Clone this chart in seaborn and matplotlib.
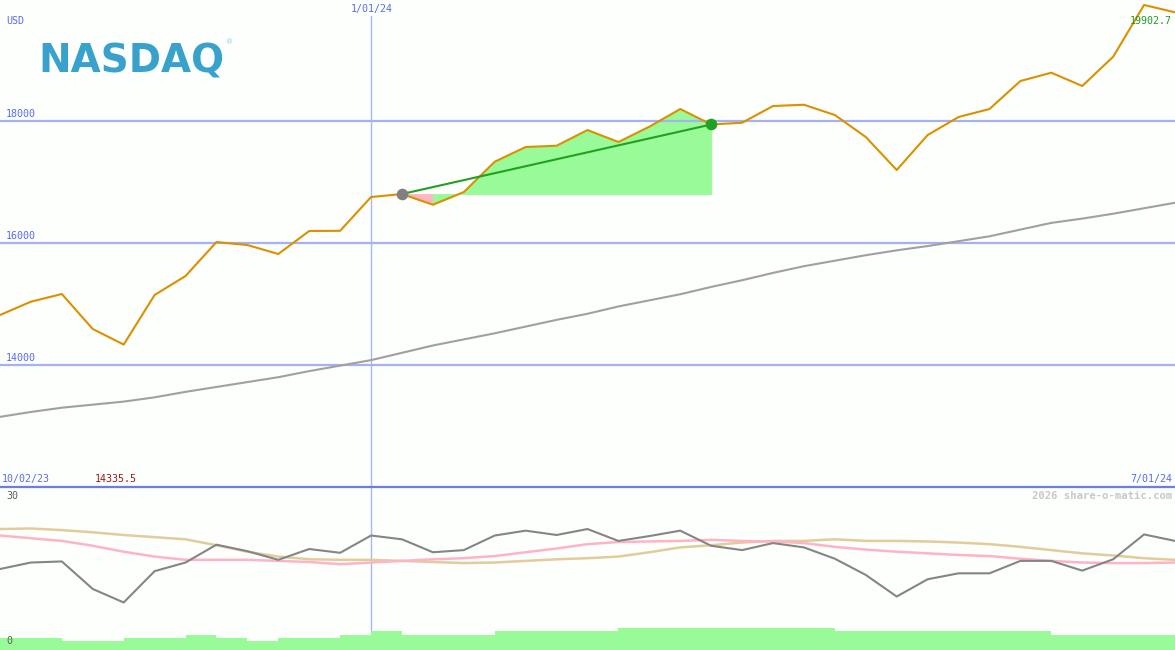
import matplotlib
matplotlib.use("Agg")
import matplotlib.pyplot as plt
import matplotlib.transforms as mtransforms
from matplotlib.lines import Line2D
import seaborn as sns

# ---------------- data ----------------
week_index = list(range(39))
close = [14820, 15038, 15164, 14590, 14335.5, 15148, 15459, 16016, 15967, 15820,
         16197, 16200, 16754, 16803, 16628, 16836, 17333, 17574, 17595, 17852,
         17656, 17907, 18197, 17943, 17972, 18246, 18267, 18098, 17738, 17197,
         17770, 18066, 18197, 18656, 18792, 18574, 19054, 19902.7, 19782]
moving_avg = [13150, 13230, 13300, 13350, 13400, 13470, 13560, 13640, 13720, 13800,
              13900, 13990, 14080, 14200, 14320, 14420, 14520, 14630, 14740, 14840,
              14960, 15060, 15160, 15280, 15390, 15510, 15620, 15710, 15800, 15880,
              15950, 16030, 16110, 16220, 16330, 16400, 16480, 16570, 16660]
osc_main = [15.0, 16.2, 16.4, 11.3, 8.8, 14.6, 16.2, 19.5, 18.3, 16.7,
            18.7, 18.0, 21.2, 20.5, 18.1, 18.5, 21.2, 22.1, 21.3, 22.4,
            20.2, 21.1, 22.1, 19.3, 18.5, 19.8, 19.0, 16.9, 13.9, 9.9,
            13.1, 14.2, 14.2, 16.5, 16.5, 14.7, 16.8, 21.4, 20.2]
osc_pink = [21.2, 20.7, 20.2, 19.3, 18.2, 17.3, 16.7, 16.7, 16.7, 16.5,
            16.3, 15.9, 16.2, 16.5, 16.8, 17.0, 17.4, 18.1, 18.8, 19.6,
            20.0, 20.1, 20.2, 20.4, 20.2, 20.1, 19.8, 19.1, 18.6, 18.2,
            17.9, 17.6, 17.4, 16.9, 16.5, 16.2, 16.1, 16.1, 16.2]
osc_tan = [22.4, 22.5, 22.2, 21.8, 21.3, 20.9, 20.5, 19.4, 18.2, 17.3,
           16.8, 16.7, 16.7, 16.5, 16.3, 16.1, 16.2, 16.5, 16.8, 17.0,
           17.3, 18.1, 19.0, 19.4, 19.9, 20.2, 20.2, 20.5, 20.2, 20.2,
           20.1, 19.9, 19.6, 19.1, 18.5, 17.9, 17.5, 17.0, 16.7]
volume = [2.3, 2.3, 1.7, 1.7, 2.3, 2.3, 2.8, 2.3, 1.7, 2.3,
          2.3, 2.8, 3.5, 2.8, 2.8, 2.8, 3.5, 3.5, 3.5, 3.5,
          4.1, 4.1, 4.1, 4.1, 4.1, 4.1, 4.1, 3.5, 3.5, 3.5,
          3.5, 3.5, 3.5, 3.5, 2.8, 2.8, 2.8, 2.8]
y_ticks = [14000, 16000, 18000]
y_tick_labels = ["14000", "16000", "18000"]
date_labels = ["10/02/23", "1/01/24", "7/01/24"]
marker_week = 12
trade_start, trade_end = 13, 23
low_label = "14335.5"
high_label = "19902.7"
osc_labels = ["30", "0"]

# ---------------- style ----------------
W, H = 1175, 650
bg = "#fcfffc"
grid_blue = "#a4b2f2"
text_blue = "#5a6af0"
mono = ["DejaVu Sans Mono"]

sns.set_style("white")
plt.rcParams["font.family"] = ["DejaVu Sans Mono", "DejaVu Sans"]

fig = plt.figure(figsize=(W / 100, H / 100), dpi=100, facecolor=bg)
ax = fig.add_axes([0, 163 / H, 1, 487 / H])
ax2 = fig.add_axes([0, 0, 1, 162 / H])


def fx(x):
    return x / W


def fy(y):
    return 1 - y / H


# ---------------- top panel ----------------
for v in y_ticks:
    ax.axhline(v, color=grid_blue, lw=1.6, zorder=3)
ax.axvline(marker_week, ymax=1 - 16 / 487, color="#a8b6fa", lw=1.0, zorder=2)

sns.lineplot(x=week_index, y=moving_avg, ax=ax, color="#a0a0a0", lw=1.5, zorder=4)

base = close[trade_start]
for i in range(trade_start, trade_end):
    col = "#98fb98" if close[i + 1] >= base else "#ffb6c1"
    ax.fill_between([week_index[i], week_index[i + 1]], [close[i], close[i + 1]], base,
                    facecolor=col, edgecolor=col, lw=0.6, antialiased=False, zorder=1)

sns.lineplot(x=week_index, y=close, ax=ax, color="#dc9000", lw=1.5, zorder=5)
ax.plot([week_index[trade_start], week_index[trade_end]], [close[trade_start], close[trade_end]],
        color="#22a022", lw=1.5, zorder=6)
ax.scatter([week_index[trade_start]], [close[trade_start]], s=70, color="#808080", zorder=7, lw=0)
ax.scatter([week_index[trade_end]], [close[trade_end]], s=70, color="#22a022", zorder=7, lw=0)

ax.set_xlim(0, 38)
ax.set_ylim(12000, 19984)
ax.set_axis_off()

blend = mtransforms.blended_transform_factory(ax.transAxes, ax.transData)
for v, lab in zip(y_ticks, y_tick_labels):
    ax.text(6 / W, v + 25, lab, transform=blend, ha="left", va="bottom",
            fontsize=7.2, color=text_blue, family=mono)

# ---------------- bottom panel ----------------
ax2.axvline(marker_week, color="#a8b6fa", lw=1.0, zorder=1)
ax2.bar(week_index[:-1], volume, width=1.0, align="edge", color="#98fb98", lw=0,
        antialiased=False, zorder=2)
sns.lineplot(x=week_index, y=osc_tan, ax=ax2, color="#e2cc9c", lw=1.8, zorder=3)
sns.lineplot(x=week_index, y=osc_pink, ax=ax2, color="#ffb4c6", lw=1.8, zorder=3)
sns.lineplot(x=week_index, y=osc_main, ax=ax2, color="#858585", lw=1.5, zorder=4)
ax2.set_xlim(0, 38)
ax2.set_ylim(0, 30)
ax2.set_axis_off()

fig.add_artist(Line2D([0, 1], [163 / H, 163 / H], color="#6c7cea", lw=1.6))

# ---------------- texts ----------------
fig.text(fx(6), fy(21), "USD", ha="left", va="center", fontsize=7.2, color=text_blue, family=mono)
fig.text(fx(372), fy(9), date_labels[1], ha="center", va="center", fontsize=7.2, color=text_blue, family=mono)
fig.text(fx(1172), fy(21), high_label, ha="right", va="center", fontsize=7.2, color="#229922", family=mono)
fig.text(fx(2), fy(479), date_labels[0], ha="left", va="center", fontsize=7.2, color=text_blue, family=mono)
fig.text(fx(95), fy(479), low_label, ha="left", va="center", fontsize=7.2, color="#a01818", family=mono)
fig.text(fx(1172), fy(479), date_labels[2], ha="right", va="center", fontsize=7.2, color=text_blue, family=mono)
fig.text(fx(1172), fy(496), "2026 share-o-matic.com", ha="right", va="center", fontsize=7.6,
         fontweight="bold", color="#c8c8c8", family=mono)
fig.text(fx(6), fy(496), osc_labels[0], ha="left", va="center", fontsize=7.2, color="#606060", family=mono)
fig.text(fx(6), fy(641), osc_labels[1], ha="left", va="center", fontsize=7.2, color="#606060", family=mono)

# logo
fig.text(fx(38), fy(73), "NASDAQ", ha="left", va="baseline", fontsize=28, fontweight="bold",
         color="#38a2cc", family=["DejaVu Sans"])
fig.text(fx(226), fy(42), "®", ha="left", va="center", fontsize=5, color="#8ccae4", family=["DejaVu Sans"])

fig.savefig("out.png", dpi=100, facecolor=bg)
